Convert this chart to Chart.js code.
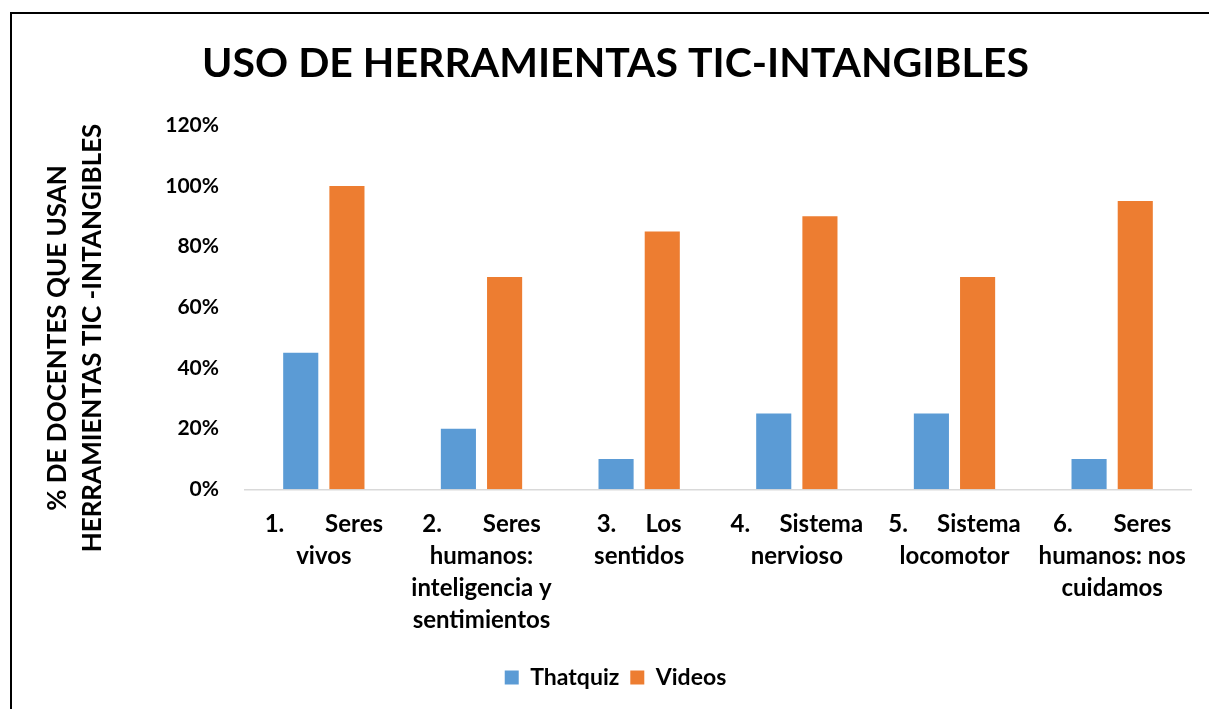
<!DOCTYPE html>
<html>
<head>
<meta charset="utf-8">
<script src="https://cdn.jsdelivr.net/npm/chart.js@4"></script>
<style>
  html, body { margin: 0; padding: 0; background: #fff; overflow: hidden; }
  #wrap { position: relative; width: 1209px; height: 709px; }
  #frame { position: absolute; left: 10px; top: 12px; width: 1300px; height: 800px; border: 2px solid #000; box-sizing: border-box; }
  canvas { position: absolute; left: 0; top: 0; }
</style>
</head>
<body>
<div id="wrap">
  <div id="frame"></div>
  <canvas id="c" width="1209" height="709"></canvas>
</div>
<script>
const categories = [
  ["1.       Seres", "vivos"],
  ["2.       Seres", "humanos:", "inteligencia y", "sentimientos"],
  ["3.     Los", "sentidos"],
  ["4.     Sistema", "nervioso"],
  ["5.     Sistema", "locomotor"],
  ["6.       Seres", "humanos: nos", "cuidamos"]
];
const thatquiz = [45, 20, 10, 25, 25, 10];
const videos = [100, 70, 85, 90, 70, 95];
const yTicks = [0, 20, 40, 60, 80, 100, 120];
const titleText = "USO DE HERRAMIENTAS TIC-INTANGIBLES";
const yTitle = ["% DE DOCENTES QUE USAN", "HERRAMIENTAS TIC -INTANGIBLES"];

const FONT = "Lato, 'Open Sans', sans-serif";
const W = 'bold';

const yTitlePlugin = {
  id: 'yTitleCustom',
  afterDraw(chart) {
    const ctx = chart.ctx;
    ctx.save();
    ctx.font = W + ' 26px ' + FONT;
    ctx.fillStyle = '#000';
    ctx.textAlign = 'center';
    ctx.textBaseline = 'middle';
    const cy = 338;
    const xs = [58, 93];
    yTitle.forEach((line, i) => {
      ctx.save();
      ctx.translate(xs[i], cy);
      ctx.rotate(-Math.PI / 2);
      ctx.fillText(line, 0, 0);
      ctx.restore();
    });
    ctx.restore();
  }
};

new Chart(document.getElementById('c'), {
  type: 'bar',
  data: {
    labels: categories,
    datasets: [
      { label: 'Thatquiz', data: thatquiz, backgroundColor: '#5B9BD5', barPercentage: 0.76, categoryPercentage: 0.586 },
      { label: 'Videos', data: videos, backgroundColor: '#ED7D31', barPercentage: 0.76, categoryPercentage: 0.586 }
    ]
  },
  plugins: [yTitlePlugin],
  options: {
    responsive: false,
    animation: false,
    layout: { padding: { left: 40, right: 18, top: 39, bottom: 10 } },
    plugins: {
      title: {
        display: true, text: titleText, color: '#000',
        font: { family: FONT, size: 41, weight: W },
        padding: { top: 0, bottom: 37 }
      },
      legend: {
        position: 'bottom',
        labels: {
          color: '#000', boxWidth: 14, boxHeight: 14, padding: 11,
          font: { family: FONT, size: 23, weight: W }
        }
      },
      tooltip: { enabled: false }
    },
    scales: {
      x: {
        grid: { display: false, drawTicks: false },
        border: { color: '#D9D9D9', width: 1.5 },
        ticks: {
          color: '#000', maxRotation: 0, autoSkip: false, padding: 19,
          font: { family: FONT, size: 24, weight: W, lineHeight: 1.33 }
        }
      },
      y: {
        min: 0, max: 120,
        afterBuildTicks: (s) => { s.ticks = yTicks.map(v => ({ value: v })); },
        afterFit: (s) => { s.width = 205; },
        grid: { display: false, drawTicks: false },
        border: { display: false },
        ticks: {
          color: '#000', padding: 26,
          font: { family: FONT, size: 21, weight: W },
          callback: (v) => v + '%'
        }
      }
    }
  }
});
</script>
</body>
</html>
